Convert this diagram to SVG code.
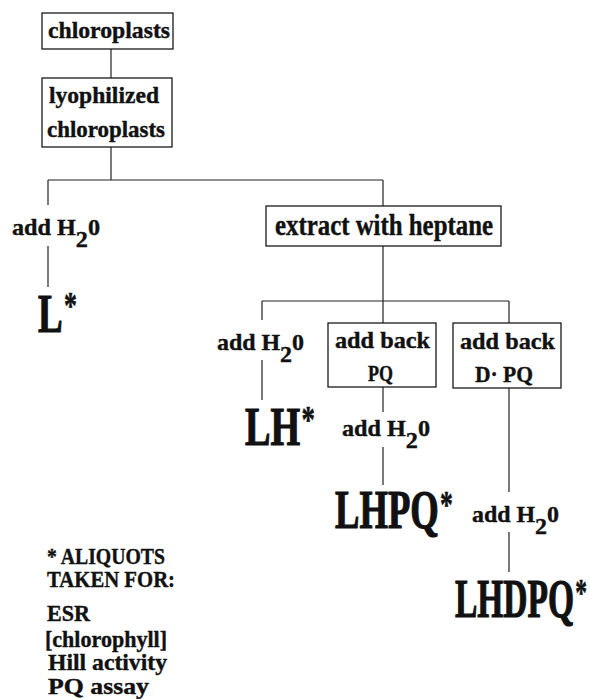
<svg xmlns="http://www.w3.org/2000/svg" width="590" height="699" viewBox="0 0 590 699">
<style>
  .box { fill: #fff; stroke: #1a1a1a; stroke-width: 1.3; }
  .t { font-family: "Liberation Serif", "Times New Roman", serif; font-weight: bold; fill: #111; stroke: #111; stroke-width: 0.4; }
  .s { font-size: 24px; }
  .m { font-size: 29px; }
  .b { font-size: 54px; stroke-width: 1.2; }
  .a { font-size: 38px; stroke-width: 0.6; }
  .f { font-size: 24px; }
  #connectors line { stroke: #222; stroke-width: 1.2; }
</style>
<rect width="590" height="699" fill="#fff"/>
<g id="connectors">
  <line x1="111" y1="49" x2="111" y2="78"/>
  <line x1="111" y1="147" x2="111" y2="180"/>
  <line x1="48" y1="180" x2="383" y2="180"/>
  <line x1="48" y1="180" x2="48" y2="205"/>
  <line x1="383" y1="180" x2="383" y2="206"/>
  <line x1="48" y1="246" x2="48" y2="287"/>
  <line x1="383" y1="246" x2="383" y2="301"/>
  <line x1="262" y1="301" x2="509" y2="301"/>
  <line x1="262" y1="301" x2="262" y2="320"/>
  <line x1="383" y1="301" x2="383" y2="323"/>
  <line x1="509" y1="301" x2="509" y2="323"/>
  <line x1="262" y1="360" x2="262" y2="400"/>
  <line x1="383" y1="387" x2="383" y2="412"/>
  <line x1="383" y1="447" x2="383" y2="485"/>
  <line x1="509" y1="388" x2="509" y2="492"/>
  <line x1="509" y1="532" x2="509" y2="572"/>
</g>
<g id="chloroplasts">
  <rect class="box" x="42" y="13" width="131" height="36"/>
  <text class="t s" x="48" y="38" textLength="122" lengthAdjust="spacingAndGlyphs">chloroplasts</text>
</g>
<g id="lyophilized">
  <rect class="box" x="42" y="78" width="130" height="69"/>
  <text class="t s" x="49" y="103" textLength="110" lengthAdjust="spacingAndGlyphs">lyophilized</text>
  <text class="t s" x="47" y="137" textLength="118" lengthAdjust="spacingAndGlyphs">chloroplasts</text>
</g>
<g id="addwater1">
  <text class="t s" x="12" y="235" textLength="88" lengthAdjust="spacingAndGlyphs">add H<tspan dy="12">2</tspan><tspan dy="-12">0</tspan></text>
</g>
<g id="L">
  <text class="t b" x="38" y="332" textLength="39" lengthAdjust="spacingAndGlyphs">L<tspan class="a" dx="2" dy="-14">*</tspan></text>
</g>
<g id="extract">
  <rect class="box" x="266" y="206" width="235" height="40"/>
  <text class="t m" x="275" y="235" textLength="218" lengthAdjust="spacingAndGlyphs">extract with heptane</text>
</g>
<g id="addwater2">
  <text class="t s" x="217" y="350" textLength="87" lengthAdjust="spacingAndGlyphs">add H<tspan dy="12">2</tspan><tspan dy="-12">0</tspan></text>
</g>
<g id="addbackPQ">
  <rect class="box" x="328" y="323" width="108" height="64"/>
  <text class="t s" x="335" y="348" textLength="95" lengthAdjust="spacingAndGlyphs">add back</text>
  <text class="t s" x="368" y="381" textLength="25" lengthAdjust="spacingAndGlyphs">PQ</text>
</g>
<g id="addbackDPQ">
  <rect class="box" x="453" y="323" width="108" height="65"/>
  <text class="t s" x="460" y="349" textLength="95" lengthAdjust="spacingAndGlyphs">add back</text>
  <text class="t s" x="475" y="382" textLength="58" lengthAdjust="spacingAndGlyphs">D· PQ</text>
</g>
<g id="LH">
  <text class="t b" x="245" y="445" textLength="70" lengthAdjust="spacingAndGlyphs">LH<tspan class="a" dx="2" dy="-13">*</tspan></text>
</g>
<g id="addwater3">
  <text class="t s" x="342" y="436" textLength="88" lengthAdjust="spacingAndGlyphs">add H<tspan dy="12">2</tspan><tspan dy="-12">0</tspan></text>
</g>
<g id="LHPQ">
  <text class="t b" x="335" y="528" textLength="118" lengthAdjust="spacingAndGlyphs">LHPQ<tspan class="a" dx="2" dy="-11">*</tspan></text>
</g>
<g id="addwater4">
  <text class="t s" x="472" y="522" textLength="87" lengthAdjust="spacingAndGlyphs">add H<tspan dy="12">2</tspan><tspan dy="-12">0</tspan></text>
</g>
<g id="LHDPQ">
  <text class="t b" x="455" y="617" textLength="132" lengthAdjust="spacingAndGlyphs">LHDPQ<tspan class="a" dx="2" dy="-12">*</tspan></text>
</g>
<g id="footnote">
  <text class="t f" x="47" y="564" textLength="118" lengthAdjust="spacingAndGlyphs">* ALIQUOTS</text>
  <text class="t f" x="47" y="587" textLength="128" lengthAdjust="spacingAndGlyphs">TAKEN FOR:</text>
  <text class="t f" x="47" y="621" textLength="43" lengthAdjust="spacingAndGlyphs">ESR</text>
  <text class="t f" x="45" y="647" textLength="122" lengthAdjust="spacingAndGlyphs">[chlorophyll]</text>
  <text class="t f" x="48" y="670" textLength="119" lengthAdjust="spacingAndGlyphs">Hill activity</text>
  <text class="t f" x="48" y="694" textLength="101" lengthAdjust="spacingAndGlyphs">PQ  assay</text>
</g>
</svg>
